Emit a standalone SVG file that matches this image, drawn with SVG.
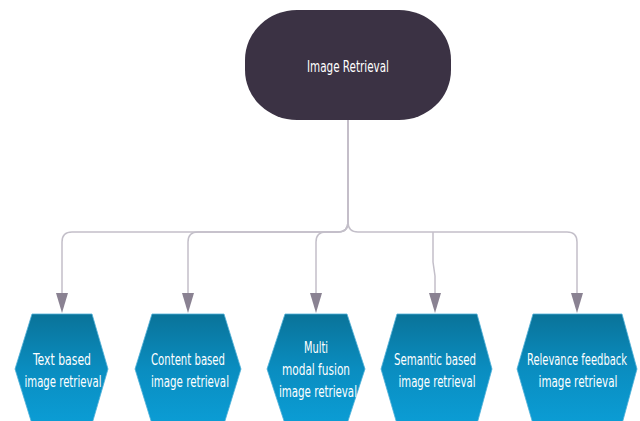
<svg xmlns="http://www.w3.org/2000/svg" width="640" height="421" viewBox="0 0 640 421">
<style>
.conn{fill:none;stroke:#c3bfc9;stroke-width:1.5}
.hex{fill:url(#hg);stroke:#4fb0d8;stroke-width:0.8}
.t{font-family:"DejaVu Sans Condensed","DejaVu Sans",sans-serif;font-size:16px;fill:#ffffff;text-anchor:middle}
</style>
<defs>
<linearGradient id="hg" x1="0" y1="0" x2="0" y2="1">
<stop offset="0" stop-color="#0a7399"/>
<stop offset="0.5" stop-color="#0a8dc0"/>
<stop offset="1" stop-color="#0b9dd5"/>
</linearGradient>
<marker id="ah" markerUnits="userSpaceOnUse" markerWidth="20" markerHeight="12" viewBox="0 0 20 12" refX="2" refY="6" orient="auto">
<path d="M0,0 L20,6 L0,12 z" fill="#8a8292"/>
</marker>
</defs>
<g id="connectors">
<path class="conn" d="M348,120 V222 Q348,232 338,232 H72 Q62,232 62,242 V295" marker-end="url(#ah)"/>
<path class="conn" d="M348,120 V222 Q348,232 338,232 H198 Q188,232 188,242 V295" marker-end="url(#ah)"/>
<path class="conn" d="M348,120 V222 Q348,232 338,232 H326 Q316,232 316,242 V295" marker-end="url(#ah)"/>
<path class="conn" d="M348,120 V222 Q348,232 358,232 H567 Q577,232 577,242 V295" marker-end="url(#ah)"/>
<path class="conn" d="M433,232 V262 L435,276 V295" marker-end="url(#ah)"/>
</g>
<g id="node-root">
<rect x="245" y="10" width="206" height="110" rx="52" ry="50" fill="#3b3244"/>
<text class="t" x="348" y="72" textLength="82" lengthAdjust="spacingAndGlyphs">Image Retrieval</text>
</g>
<g id="node-text">
<polygon class="hex" points="32,314 92,314 108,369 92,424 32,424 15,369"/>
<text class="t" x="62" y="365" textLength="58" lengthAdjust="spacingAndGlyphs">Text based</text>
<text class="t" x="63" y="387" textLength="77" lengthAdjust="spacingAndGlyphs">image retrieval</text>
</g>
<g id="node-content">
<polygon class="hex" points="152,314 224,314 241,369 224,424 152,424 135,369"/>
<text class="t" x="188" y="365" textLength="74" lengthAdjust="spacingAndGlyphs">Content based</text>
<text class="t" x="190" y="387" textLength="78" lengthAdjust="spacingAndGlyphs">image retrieval</text>
</g>
<g id="node-multi">
<polygon class="hex" points="285,314 347,314 365,369 347,424 285,424 267,369"/>
<text class="t" x="316" y="353" textLength="24" lengthAdjust="spacingAndGlyphs">Multi</text>
<text class="t" x="316" y="375" textLength="68" lengthAdjust="spacingAndGlyphs">modal fusion</text>
<text class="t" x="318" y="397" textLength="78" lengthAdjust="spacingAndGlyphs">image retrieval</text>
</g>
<g id="node-semantic">
<polygon class="hex" points="397,314 477,314 492,369 477,424 397,424 381,369"/>
<text class="t" x="435" y="365" textLength="82" lengthAdjust="spacingAndGlyphs">Semantic based</text>
<text class="t" x="437" y="387" textLength="77" lengthAdjust="spacingAndGlyphs">image retrieval</text>
</g>
<g id="node-relevance">
<polygon class="hex" points="533,314 622,314 637,369 622,424 533,424 517,369"/>
<text class="t" x="577" y="365" textLength="100" lengthAdjust="spacingAndGlyphs">Relevance feedback</text>
<text class="t" x="578" y="387" textLength="79" lengthAdjust="spacingAndGlyphs">image retrieval</text>
</g>
</svg>
